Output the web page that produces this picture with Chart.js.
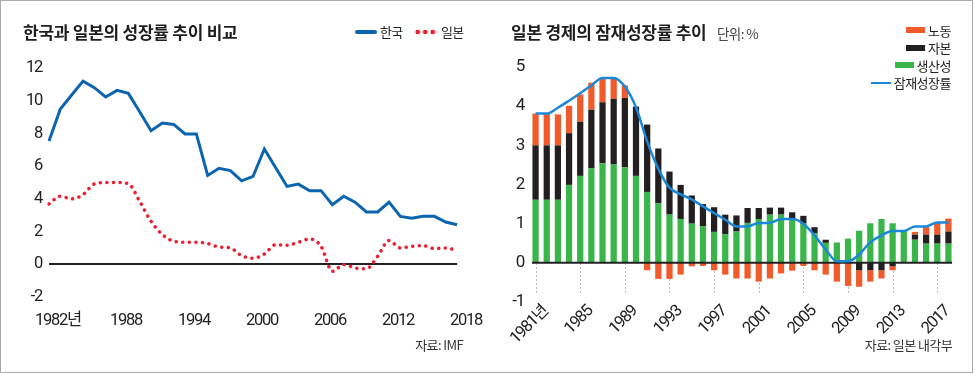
<!DOCTYPE html>
<html>
<head>
<meta charset="utf-8">
<script src="https://cdn.jsdelivr.net/npm/chart.js@4.4.1/dist/chart.umd.min.js"></script>
<style>
  body { margin: 0; background: #fff; font-family: 'Noto Sans CJK KR', sans-serif; color: #222; }
  #wrap { position: relative; width: 975px; height: 375px; overflow: hidden; background: #fff; }
  #frame { position: absolute; left: 0; top: 0; width: 971px; height: 371px; border: 1px solid #aaa; }
  canvas { position: absolute; top: 0; }
  .title { position: absolute; top: 22px; font-size: 17px; line-height: 20px; font-weight: 700; letter-spacing: -0.25px; color: #1e1e1e; white-space: nowrap; }
  .small { position: absolute; font-size: 13px; line-height: 18px; letter-spacing: -0.6px; color: #333; white-space: nowrap; }
  .mk { position: absolute; }
  .leg { position: absolute; right: 24px; display: flex; align-items: center; justify-content: flex-end; height: 18px; font-size: 13px; letter-spacing: -0.5px; color: #222; white-space: nowrap; }
  .leg i { display: inline-block; margin-right: 3px; }
</style>
</head>
<body>
<div id="wrap">
  <canvas id="growthChart" width="487" height="375" style="left:0"></canvas>
  <canvas id="potentialChart" width="488" height="375" style="left:487px"></canvas>

  <div class="title" style="left:23px">한국과 일본의 성장률 추이 비교</div>
  <div class="mk" style="left:355px;top:30px;width:22px;height:4px;background:#0b64b0;border-radius:2px"></div>
  <div class="small" style="left:380px;top:23px;color:#222">한국</div>
  <div class="mk" style="left:414px;top:29px;width:24px;height:6px;background:radial-gradient(circle, #e8202f 2.1px, transparent 2.6px) 0 0 / 7.5px 6px repeat-x"></div>
  <div class="small" style="left:441px;top:23px;color:#222">일본</div>
  <div class="small" style="right:512px;top:336px">자료: IMF</div>

  <div class="title" style="left:511px">일본 경제의 잠재성장률 추이</div>
  <div class="small" style="left:717px;top:24px;color:#444;font-size:13.5px">단위: %</div>
  <div class="leg" style="top:21px"><i style="width:19px;height:6px;background:#f15a2b"></i>노동</div>
  <div class="leg" style="top:38.5px"><i style="width:19px;height:6px;background:#231f20"></i>자본</div>
  <div class="leg" style="top:56px"><i style="width:19px;height:6px;background:#3ab54a"></i>생산성</div>
  <div class="leg" style="top:73.5px"><i style="width:20px;height:2px;background:#1b87d8"></i>잠재성장률</div>
  <div class="small" style="right:23px;top:336px">자료: 일본 내각부</div>
  <div id="frame"></div>
</div>
<script>
// left chart: GDP growth, Korea vs Japan (%)
const growthYears = [1982, 1983, 1984, 1985, 1986, 1987, 1988, 1989, 1990, 1991,
  1992, 1993, 1994, 1995, 1996, 1997, 1998, 1999, 2000, 2001,
  2002, 2003, 2004, 2005, 2006, 2007, 2008, 2009, 2010, 2011,
  2012, 2013, 2014, 2015, 2016, 2017, 2018];
const korea = [7.54, 9.49, 10.35, 11.2, 10.8, 10.23, 10.63, 10.45, 9.33, 8.17,
  8.64, 8.55, 7.97, 7.97, 5.43, 5.87, 5.73, 5.1, 5.37, 7.05,
  5.9, 4.76, 4.9, 4.5, 4.5, 3.64, 4.16, 3.8, 3.2, 3.2,
  3.8, 2.93, 2.82, 2.93, 2.93, 2.58, 2.42];
const japan = [3.69, 4.16, 4.0, 4.26, 4.91, 5.0, 5.0, 4.93, 3.85, 2.63,
  1.82, 1.41, 1.35, 1.35, 1.27, 1.06, 1.0, 0.53, 0.37, 0.63,
  1.2, 1.16, 1.35, 1.55, 1.1, -0.43, -0.02, -0.22, -0.27, 0.49,
  1.45, 1.0, 1.1, 1.14, 0.96, 1.0, 0.84];
const growthTicks = [-2, 0, 2, 4, 6, 8, 10, 12];

// right chart: Japan potential growth decomposition (%)
const potYears = [1981, 1982, 1983, 1984, 1985, 1986, 1987, 1988, 1989, 1990,
  1991, 1992, 1993, 1994, 1995, 1996, 1997, 1998, 1999, 2000,
  2001, 2002, 2003, 2004, 2005, 2006, 2007, 2008, 2009, 2010,
  2011, 2012, 2013, 2014, 2015, 2016, 2017, 2018];
const productivity = [1.61, 1.61, 1.61, 1.99, 2.22, 2.41, 2.54, 2.51, 2.44, 2.22,
  1.81, 1.52, 1.23, 1.12, 1.00, 0.93, 0.79, 0.73, 0.80, 1.02,
  1.12, 1.23, 1.23, 1.12, 1.00, 0.76, 0.51, 0.52, 0.62, 0.82,
  1.01, 1.12, 1.01, 0.82, 0.59, 0.49, 0.49, 0.49];
const capital = [1.39, 1.39, 1.39, 1.32, 1.38, 1.50, 1.56, 1.68, 1.77, 1.77,
  1.72, 1.40, 1.10, 0.87, 0.72, 0.57, 0.63, 0.50, 0.41, 0.38,
  0.28, 0.18, 0.18, 0.17, 0.20, 0.15, 0.08, 0, 0, -0.19,
  -0.19, -0.19, -0.09, 0, 0.13, 0.23, 0.23, 0.31];
const labor = [0.81, 0.81, 0.79, 0.70, 0.70, 0.69, 0.62, 0.53, 0.32, 0,
  -0.19, -0.41, -0.41, -0.30, -0.09, -0.08, -0.19, -0.30, -0.40, -0.40,
  -0.48, -0.40, -0.27, -0.20, -0.08, -0.19, -0.30, -0.48, -0.59, -0.42,
  -0.29, -0.21, -0.10, 0, 0.07, 0.19, 0.30, 0.33];
const potential = [3.81, 3.81, 3.96, 4.14, 4.33, 4.53, 4.72, 4.72, 4.5, 3.97,
  3.1, 2.4, 1.92, 1.75, 1.62, 1.44, 1.27, 1.1, 0.93, 0.93,
  1.02, 1.02, 1.12, 1.12, 1.0, 0.7, 0.34, 0.04, 0.04, 0.21,
  0.53, 0.7, 0.81, 0.81, 0.93, 0.93, 1.03, 1.03];

const tickFont = "Roboto, 'Noto Sans CJK KR', sans-serif";

// the original uses a condensed face for numbers: tighten canvas text
const tightText = {
    id: 'tightText',
    beforeUpdate(chart) { chart.ctx.letterSpacing = '-1.3px'; },
    beforeDraw(chart) { chart.ctx.letterSpacing = '-1.3px'; }
};

var chart_growth = new Chart(document.getElementById('growthChart'), {
    type: 'line',
    data: {
        labels: growthYears,
        datasets: [
            {
                label: '한국',
                data: korea,
                borderColor: '#0b64b0',
                borderWidth: 3,
                pointRadius: 0,
                tension: 0
            },
            {
                label: '일본',
                data: japan,
                borderColor: '#e8202f',
                borderWidth: 3.5,
                borderDash: [0.1, 6.5],
                borderCapStyle: 'round',
                pointRadius: 0,
                cubicInterpolationMode: 'monotone'
            }
        ]
    },
    options: {
        animation: false,
        responsive: false,
        layout: { padding: { top: 68, right: 23, bottom: 38, left: 0 } },
        plugins: { legend: { display: false }, tooltip: { enabled: false } },
        scales: {
            x: {
                type: 'category',
                offset: false,
                grid: { display: false, drawTicks: false },
                border: { display: false },
                ticks: {
                    autoSkip: false,
                    maxRotation: 0,
                    padding: 14,
                    labelOffset: 9,
                    color: '#222',
                    font: { family: tickFont, size: 16.5 },
                    callback: (v, i) => {
                        const yr = growthYears[i];
                        if ((yr - growthYears[0]) % 6) return null;
                        return i === 0 ? yr + '년' : String(yr);
                    }
                },
                afterFit: s => { s.height = 40; }
            },
            y: {
                min: -2,
                max: 12,
                afterBuildTicks: s => { s.ticks = growthTicks.map(v => ({ value: v })); },
                grid: {
                    drawTicks: false,
                    color: c => c.tick.value === 0 ? '#222' : 'rgba(0,0,0,0)',
                    lineWidth: 2
                },
                border: { display: false },
                ticks: { padding: 7, color: '#222', font: { family: tickFont, size: 16.5 } },
                afterFit: s => { s.width = 49; }
            }
        }
    },
    plugins: [tightText]
});

const potentialGuides = {
    id: 'potentialGuides',
    beforeDatasetsDraw(chart) {
        const { ctx, scales: { x, y } } = chart;
        ctx.save();
        ctx.strokeStyle = '#b8b8b8';
        ctx.lineWidth = 1;
        ctx.setLineDash([2, 2]);
        potYears.forEach((yr, i) => {
            if ((yr - potYears[0]) % 4) return;
            const px = Math.round(x.getPixelForValue(i)) + 0.5;
            ctx.beginPath();
            ctx.moveTo(px, y.getPixelForValue(0));
            ctx.lineTo(px, y.getPixelForValue(-0.78));
            ctx.stroke();
        });
        ctx.restore();
    },
    afterDatasetDraw(chart, args) {
        // zero line goes over the bars but under the potential growth line
        if (args.index !== 1) return;
        const { ctx, chartArea, scales: { y } } = chart;
        const py = y.getPixelForValue(0);
        ctx.save();
        ctx.strokeStyle = '#222';
        ctx.lineWidth = 2;
        ctx.beginPath();
        ctx.moveTo(chartArea.left + 2, py);
        ctx.lineTo(chartArea.right - 2, py);
        ctx.stroke();
        ctx.restore();
    }
};

var chart_potential = new Chart(document.getElementById('potentialChart'), {
    type: 'bar',
    data: {
        labels: potYears,
        datasets: [
            {
                type: 'line',
                label: '잠재성장률',
                data: potential,
                stack: 'line',
                borderColor: '#1b87d8',
                borderWidth: 2.5,
                pointRadius: 0,
                cubicInterpolationMode: 'monotone'
            },
            { label: '생산성', data: productivity, backgroundColor: '#3ab54a', stack: 'bars' },
            { label: '자본', data: capital, backgroundColor: '#231f20', stack: 'bars' },
            { label: '노동', data: labor, backgroundColor: '#f15a2b', stack: 'bars' }
        ]
    },
    options: {
        animation: false,
        responsive: false,
        datasets: { bar: { barPercentage: 0.56, categoryPercentage: 1 } },
        layout: { padding: { top: 67, right: 21, bottom: 33, left: 0 } },
        plugins: { legend: { display: false }, tooltip: { enabled: false } },
        scales: {
            x: {
                stacked: true,
                grid: { display: false, drawTicks: false },
                border: { display: false },
                ticks: {
                    autoSkip: false,
                    minRotation: 45,
                    maxRotation: 45,
                    padding: 0,
                    labelOffset: 10,
                    color: '#222',
                    font: { family: tickFont, size: 16.5 },
                    callback: (v, i) => {
                        const yr = potYears[i];
                        if ((yr - potYears[0]) % 4) return null;
                        return i === 0 ? yr + '년' : String(yr);
                    }
                },
                afterFit: s => { s.height = 40; }
            },
            y: {
                stacked: true,
                min: -1,
                max: 5,
                ticks: { stepSize: 1, padding: 6, color: '#222', font: { family: tickFont, size: 17 } },
                grid: { display: false, drawTicks: false },
                border: { display: false },
                afterFit: s => { s.width = 43; }
            }
        }
    },
    plugins: [tightText, potentialGuides]
});
</script>
</body>
</html>
